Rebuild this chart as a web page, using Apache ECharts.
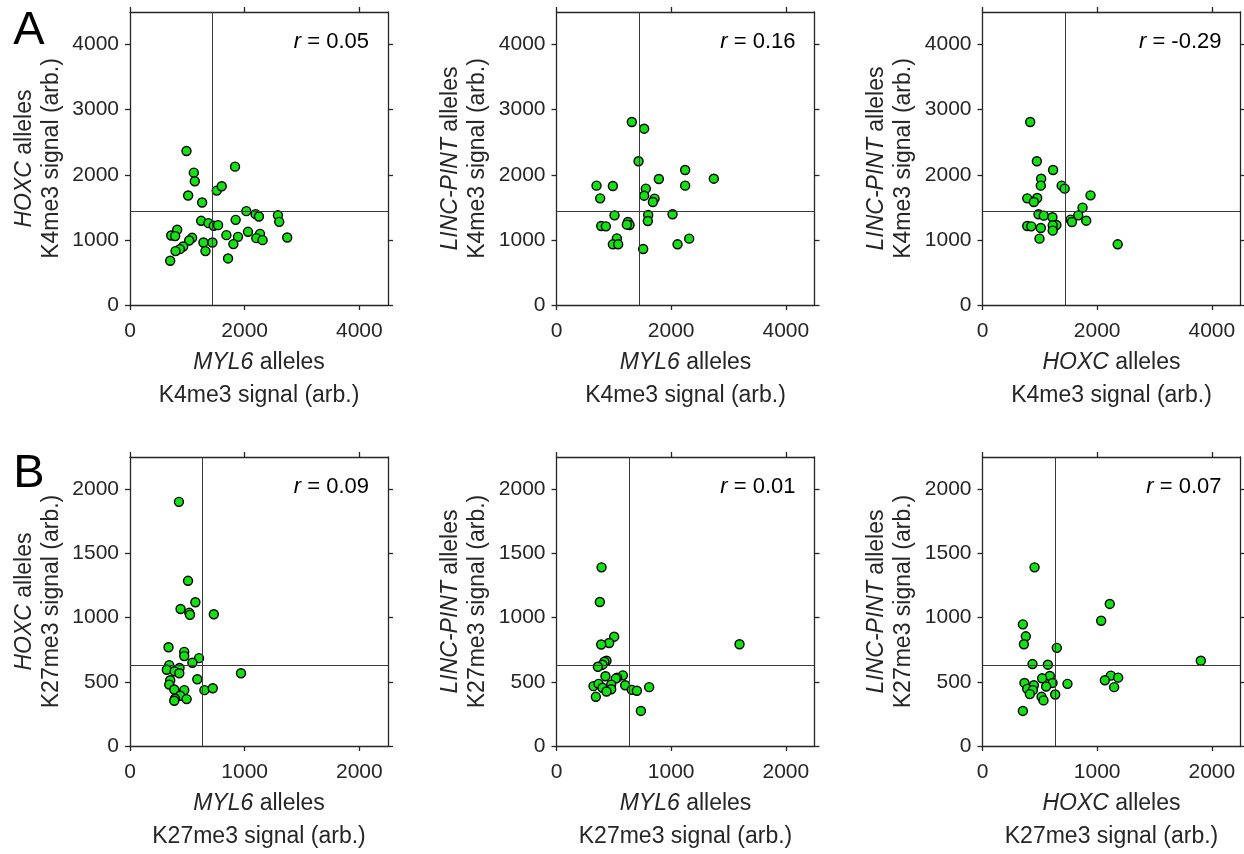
<!DOCTYPE html>
<html>
<head>
<meta charset="utf-8">
<style>
html,body{margin:0;padding:0;background:#fff;}
#chart{width:1244px;height:854px;}
</style>
<script src="https://cdn.jsdelivr.net/npm/echarts/dist/echarts.min.js"></script>
</head>
<body>
<div id="chart"></div>
<script>
// ---- Data ----
// Panel A: K4me3 signal (arb.)
const a1Points = [ // x: MYL6, y: HOXC
  [985,2365],[1832,2125],[1113,2033],[1130,1901],[1513,1757],[1600,1824],[1014,1681],[1258,1574],
  [2029,1441],[2191,1395],[2249,1359],[2580,1379],[2603,1277],[1241,1293],[1368,1257],[1461,1216],
  [1536,1226],[1843,1308],[823,1155],[719,1068],[788,1058],[1084,1032],[1032,991],[2058,1124],
  [2267,1093],[2203,1027],[2313,996],[2742,1037],[1681,1073],[1884,1047],[1803,935],[1281,960],
  [1438,960],[1316,828],[928,899],[870,858],[794,828],[701,680],[1710,715]
];
const a2Points = [ // x: MYL6, y: LINC-PINT
  [1314,2811],[1529,2708],[1431,2207],[2244,2074],[2744,1940],[1785,1935],[698,1833],[983,1828],
  [2244,1833],[1558,1787],[1529,1679],[762,1638],[1710,1633],[1681,1582],[2024,1393],[1012,1377],
  [1599,1382],[1593,1290],[1245,1275],[1274,1229],[1227,1234],[780,1213],[861,1208],[1053,1024],
  [983,932],[1076,932],[2314,1019],[2111,932],[1512,860]
];
const a3Points = [ // x: HOXC, y: LINC-PINT
  [832,2811],[948,2207],[1231,2074],[1023,1940],[1017,1833],[1381,1833],[1433,1787],[1884,1684],
  [780,1638],[954,1644],[896,1582],[1745,1495],[977,1393],[1069,1372],[1220,1347],[1670,1377],
  [1537,1311],[1560,1275],[1809,1295],[1289,1229],[1225,1224],[780,1213],[850,1208],[1017,1183],
  [1225,1142],[994,1019],[2358,932]
];
// Panel B: K27me3 signal (arb.)
const b1Points = [ // x: MYL6, y: HOXC
  [427,1901],[506,1286],[570,1119],[441,1067],[517,1037],[523,1021],[731,1026],[336,769],
  [473,733],[473,700],[602,684],[544,648],[342,630],[321,594],[432,607],[389,581],
  [430,566],[968,566],[351,512],[342,478],[587,520],[386,440],[473,435],[649,435],
  [722,450],[438,391],[392,368],[494,365],[386,352]
];
const b2Points = [ // x: MYL6, y: LINC-PINT
  [393,1391],[378,1121],[503,851],[459,802],[390,790],[1596,792],[436,664],[418,656],
  [401,633],[361,617],[427,543],[579,550],[529,532],[517,525],[599,473],[323,466],
  [367,484],[477,478],[401,453],[477,442],[436,424],[657,437],[701,430],[808,458],
  [343,383],[736,273]
];
const b3Points = [ // x: HOXC, y: LINC-PINT
  [454,1391],[1110,1106],[1035,975],[352,947],[378,854],[361,792],[648,764],[1904,664],
  [436,638],[570,633],[587,545],[520,527],[1119,548],[1183,532],[1067,512],[366,491],
  [448,473],[611,491],[741,484],[555,463],[390,445],[439,435],[1148,458],[413,404],
  [634,401],[515,383],[532,355],[352,273]
];
// Mean lines
const meanK4me3 = 1440;
const meanK27me3 = 632;
// Correlation labels
const rValues = ['0.05','0.16','-0.29','0.09','0.01','0.07'];
// Axis tick labels
const ticksA = [0,1000,2000,3000,4000];
const ticksAx = [0,2000,4000];
const ticksB = [0,500,1000,1500,2000];
const ticksBx = [0,1000,2000];
const axisMaxA = 4500, axisMaxB = 2250;
// Axis names
const xGenes = ['MYL6','MYL6','HOXC','MYL6','MYL6','HOXC'];
const yGenes = ['HOXC','LINC-PINT','LINC-PINT','HOXC','LINC-PINT','LINC-PINT'];
const marks = ['K4me3','K4me3','K4me3','K27me3','K27me3','K27me3'];

// ---- Layout ----
const FONT = '"Liberation Sans", Arial, Helvetica, sans-serif';
const TXT = '#262626';
const lefts = [130, 556.5, 982.5];
const tops = [12, 457];
const W = 258, H = [293, 292];

const panels = [
  {pts:a1Points, row:0, col:0},{pts:a2Points, row:0, col:1},{pts:a3Points, row:0, col:2},
  {pts:b1Points, row:1, col:0},{pts:b2Points, row:1, col:1},{pts:b3Points, row:1, col:2}
];

const grid = [], xAxis = [], yAxis = [], series = [], graphic = [];
const nameFs = 23, tickFs = 21;

panels.forEach((p, i) => {
  const isA = p.row === 0;
  const max = isA ? axisMaxA : axisMaxB;
  const yT = isA ? ticksA : ticksB;
  const xT = isA ? ticksAx : ticksBx;
  const yInt = yT[1] - yT[0];
  const xInt = xT[1] - xT[0];
  const mean = isA ? meanK4me3 : meanK27me3;
  grid.push({left: lefts[p.col], top: tops[p.row], width: W, height: H[p.row], containLabel: false});
  const lineStyle = {color: TXT, width: 1.3};
  const baseX = {
    type: 'value', gridIndex: i, min: 0, max: max, interval: xInt,
    splitLine: {show: false},
    axisLine: {show: true, onZero: false, lineStyle: lineStyle},
    axisTick: {show: true, inside: false, length: 5, lineStyle: lineStyle, customValues: xT}
  };
  const baseY = {
    type: 'value', gridIndex: i, min: 0, max: max, interval: yInt,
    splitLine: {show: false},
    axisLine: {show: true, onZero: false, lineStyle: lineStyle},
    axisTick: {show: true, inside: false, length: 5, lineStyle: lineStyle, customValues: yT}
  };
  const richName = {
    i: {fontStyle: 'italic', fontSize: nameFs, fontFamily: FONT, color: TXT},
    n: {fontSize: nameFs, fontFamily: FONT, color: TXT}
  };
  xAxis.push(Object.assign({}, baseX, {
    position: 'bottom',
    name: '{i|' + xGenes[i] + '}{n| alleles}\n{n|' + marks[i] + ' signal (arb.)}',
    nameLocation: 'middle', nameGap: 41,
    nameTextStyle: {fontSize: nameFs, fontFamily: FONT, color: TXT, lineHeight: 33, rich: richName},
    axisLabel: {show: true, fontSize: tickFs, fontFamily: FONT, color: TXT, margin: 16,
      customValues: xT, formatter: v => (v % xInt === 0 ? String(v) : '')}
  }));
  xAxis.push(Object.assign({}, baseX, {position: 'top', axisLabel: {show: false}}));
  yAxis.push(Object.assign({}, baseY, {
    position: 'left',
    name: '{i|' + yGenes[i] + '}{n| alleles}\n{n|' + marks[i] + ' signal (arb.)}',
    nameLocation: 'middle', nameGap: 65, nameRotate: 90,
    nameTextStyle: {fontSize: nameFs, fontFamily: FONT, color: TXT, lineHeight: 27, rich: richName},
    axisLabel: {show: true, fontSize: tickFs, fontFamily: FONT, color: TXT, margin: 11,
      customValues: yT, formatter: v => (v % yInt === 0 ? String(v) : '')}
  }));
  yAxis.push(Object.assign({}, baseY, {position: 'right', axisLabel: {show: false}}));

  series.push({
    type: 'scatter', xAxisIndex: 2 * i, yAxisIndex: 2 * i,
    data: p.pts, symbol: 'circle', symbolSize: 9,
    itemStyle: {color: '#14e014', borderColor: '#000', borderWidth: 1.4, opacity: 1},
    emphasis: {disabled: true}, silent: true, z: 3,
    markLine: {
      silent: true, symbol: 'none', animation: false,
      label: {show: false},
      lineStyle: {color: '#3a3a3a', width: 1, type: 'solid'},
      data: [{xAxis: mean}, {yAxis: mean}]
    }
  });

  graphic.push({
    type: 'text',
    x: lefts[p.col] + W - 19, y: tops[p.row] + 30,
    style: {
      text: '{i|r}{n| = ' + rValues[i] + '}',
      align: 'right', verticalAlign: 'middle',
      fontSize: 22, fontFamily: FONT, fill: '#000',
      rich: {
        i: {fontStyle: 'italic', fontSize: 22, fontFamily: FONT, fill: '#000'},
        n: {fontSize: 22, fontFamily: FONT, fill: '#000'}
      }
    }
  });
});

graphic.push({type: 'text', x: 29, y: 31, style: {text: 'A', fontSize: 47, fontFamily: FONT, fill: '#000', align: 'center', verticalAlign: 'middle'}});
graphic.push({type: 'text', x: 29, y: 474, style: {text: 'B', fontSize: 47, fontFamily: FONT, fill: '#000', align: 'center', verticalAlign: 'middle'}});

const chart = echarts.init(document.getElementById('chart'), null, {renderer: 'canvas'});
chart.setOption({
  animation: false,
  backgroundColor: '#ffffff',
  grid, xAxis, yAxis, series, graphic
});
</script>
</body>
</html>
